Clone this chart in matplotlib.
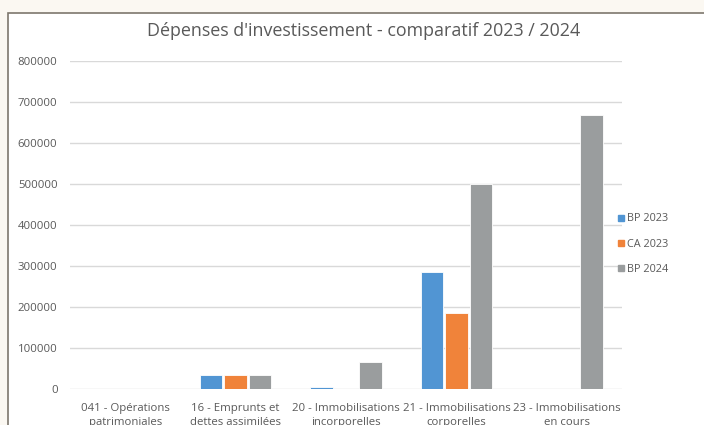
import matplotlib
matplotlib.use("Agg")
import matplotlib.pyplot as plt
from matplotlib.patches import Rectangle, Arc
from matplotlib.lines import Line2D
import numpy as np

plt.rcParams['font.family'] = ['Open Sans', 'DejaVu Sans']

# data
categories = ["041 - Opérations\npatrimoniales",
              "16 - Emprunts et\ndettes assimilées",
              "20 - Immobilisations\nincorporelles",
              "21 - Immobilisations\ncorporelles",
              "23 - Immobilisations\nen cours"]
series_names = ["BP 2023", "CA 2023", "BP 2024"]
bp_2023 = [0, 34000, 6000, 285000, 0]
ca_2023 = [0, 34000, 0, 186000, 0]
bp_2024 = [0, 34000, 67000, 500000, 668000]
colors = ["#5195d3", "#f0833a", "#9a9d9e"]
yticks = [0, 100000, 200000, 300000, 400000, 500000, 600000, 700000, 800000]

W, H = 704, 425
fig = plt.figure(figsize=(W / 100, H / 100), dpi=100)
fig.patch.set_facecolor("#fbf8f2")

# faint decorative arcs in the page background
for (cx, cy, w, h, t1, t2) in [(360, 520, 900, 1100, 40, 140),
                              (150, 300, 420, 700, 60, 130),
                              (620, 250, 500, 600, 30, 110),
                              (60, 200, 300, 500, 100, 250)]:
    fig.patches.append(Arc((cx / W, cy / H), w / W, h / H, theta1=t1, theta2=t2,
                           transform=fig.transFigure, color="#efe4d2", lw=2.5, zorder=0))

# white chart box
fig.patches.append(Rectangle((8 / W, -0.05), 1.0, 1 - 13 / H + 0.05, transform=fig.transFigure,
                             facecolor="white", edgecolor="#7d776d", lw=1.2, zorder=1))

ax = fig.add_axes([70 / W, 1 - 389 / H, 552 / W, (389 - 61) / H])
ax.set_zorder(2)
ax.patch.set_alpha(0)

x = np.arange(len(categories))
step, width = 0.222, 0.204
for i, (vals, name) in enumerate(zip([bp_2023, ca_2023, bp_2024], series_names)):
    ax.bar(x + (i - 1) * step, vals, width, color=colors[i], edgecolor="white",
           linewidth=0.6, label=name, zorder=3)

ax.set_xlim(-0.5, len(categories) - 0.5)
ax.set_ylim(0, 800000)
ax.set_yticks(yticks)
ax.set_yticklabels([str(v) for v in yticks])
ax.set_xticks(x)
ax.set_xticklabels(categories, linespacing=1.45)
ax.grid(axis="y", color="#d9d9d9", linewidth=1, zorder=0)
for s in ax.spines.values():
    s.set_visible(False)
ax.tick_params(axis="both", length=0, labelsize=8.2, colors="#595959")
ax.tick_params(axis="y", pad=9)
ax.tick_params(axis="x", pad=10)

fig.text(364 / W, 1 - 31 / H, "Dépenses d'investissement - comparatif 2023 / 2024",
         ha="center", va="center", fontsize=12.9, color="#595959", zorder=3)

handles = [Line2D([], [], marker="s", linestyle="none", markersize=4,
                  markerfacecolor=c, markeredgecolor=c) for c in colors]
fig.legend(handles, series_names, loc="upper left", bbox_to_anchor=(612 / W, 1 - 208 / H),
           frameon=False, fontsize=7.8, labelcolor="#595959", handlelength=0.6,
           handletextpad=0.3, labelspacing=1.3, borderpad=0)

fig.savefig("out.png", dpi=100, facecolor=fig.get_facecolor())
